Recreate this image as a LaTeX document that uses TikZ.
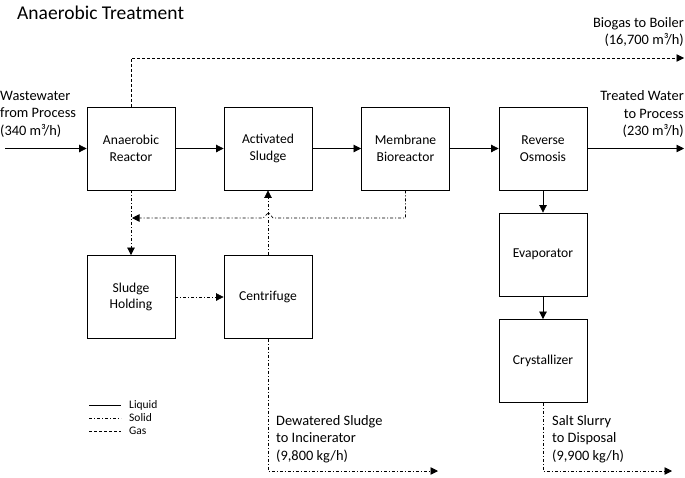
\documentclass[tikz,border=0pt]{standalone}
\usepackage{fontspec}
\setmainfont{Carlito}
\usetikzlibrary{arrows.meta}
\tikzset{
  unitbox/.style={draw,thick,minimum width=88pt,minimum height=83pt,align=center,inner sep=0pt,font=\fontsize{13.6}{16.5}\selectfont},
  flowtip/.style={-{Triangle[length=7.5pt,width=7.5pt]}},
  liquidflow/.style={flowtip,line width=0.7pt},
  solidflow/.style={flowtip,line width=0.7pt,dash pattern=on 3pt off 2pt on 1pt off 2pt},
  gasflow/.style={flowtip,line width=0.7pt,dash pattern=on 3pt off 2pt},
  flowlabel/.style={inner sep=0pt,font=\fontsize{14.4}{17.5}\selectfont},
  keylabel/.style={anchor=west,inner sep=0pt,font=\fontsize{11.5}{13}\selectfont}
}
\begin{document}
\begin{tikzpicture}[x=1pt,y=-1pt]
\useasboundingbox (0,0) rectangle (685,477);

%% title
\node [anchor=west,inner sep=0pt,font=\fontsize{19.5}{22}\selectfont] (title) at (17,13) {Anaerobic Treatment};

%% units
\node [unitbox] (reactor) at (131,148.5) {Anaerobic\\Reactor};
\node [unitbox] (activated) at (268,148.5) {Activated\\Sludge};
\node [unitbox] (membrane) at (405.5,148.5) {Membrane\\Bioreactor};
\node [unitbox] (osmosis) at (543,148.5) {Reverse\\Osmosis};
\node [unitbox] (evaporator) at (543,254.5) {Evaporator};
\node [unitbox] (crystallizer) at (543,361) {Crystallizer};
\node [unitbox] (holding) at (131,297) {Sludge\\Holding};
\node [unitbox] (centrifuge) at (268,297) {Centrifuge};

%% free ends
\coordinate (feed) at (5,148.5);
\coordinate (product) at (684,148.5);
\coordinate (gascorner) at (131,58);
\coordinate (gasout) at (684,58);
\coordinate (returncorner) at (405.5,218);
\coordinate (hopright) at (273,218);
\coordinate (hopleft) at (263,218);
\coordinate (returnend) at (132,218);
\coordinate (cakecorner) at (268,471);
\coordinate (cakeout) at (438,471);
\coordinate (saltcorner) at (543,471);
\coordinate (saltout) at (672,471);

%% liquid
\draw [liquidflow] (feed) -- (reactor);
\draw [liquidflow] (reactor) -- (activated);
\draw [liquidflow] (activated) -- (membrane);
\draw [liquidflow] (membrane) -- (osmosis);
\draw [liquidflow] (osmosis) -- (product);
\draw [liquidflow] (osmosis) -- (evaporator);
\draw [liquidflow] (evaporator) -- (crystallizer);

%% gas
\draw [gasflow] (reactor.north) -- (gascorner) -- (gasout);

%% solid
\draw [solidflow] (reactor.south) -- (holding.north);
\draw [solidflow] (holding) -- (centrifuge);
\draw [solidflow] (centrifuge.north) -- (activated.south);
\draw [solidflow] (membrane.south) -- (returncorner) -- (hopright)
  -- ++(-4,-5) -- ++(-1,0) -- (hopleft) -- (returnend);
\draw [solidflow] (centrifuge.south) -- (cakecorner) -- (cakeout);
\draw [solidflow] (crystallizer.south) -- (saltcorner) -- (saltout);

%% labels
\node [flowlabel,anchor=west,align=left] (feedlabel) at (0,114) {Wastewater\\from Process\\(340 m³/h)};
\node [flowlabel,anchor=east,align=right] (productlabel) at (684,114) {Treated Water\\to Process\\(230 m³/h)};
\node [flowlabel,anchor=east,align=right] (gaslabel) at (684,32) {Biogas to Boiler\\(16,700 m³/h)};
\node [flowlabel,anchor=west,align=left] (cakelabel) at (276,439) {Dewatered Sludge\\to Incinerator\\(9,800 kg/h)};
\node [flowlabel,anchor=west,align=left] (saltlabel) at (552,439) {Salt Slurry\\to Disposal\\(9,900 kg/h)};

%% legend
\coordinate (liquidA) at (89,405);
\coordinate (liquidB) at (121,405);
\coordinate (solidA) at (89,418);
\coordinate (solidB) at (121,418);
\coordinate (gasA) at (89,431);
\coordinate (gasB) at (121,431);
\draw [line width=0.7pt] (liquidA) -- (liquidB);
\draw [line width=0.7pt,dash pattern=on 3pt off 2pt on 1pt off 2pt] (solidA) -- (solidB);
\draw [line width=0.7pt,dash pattern=on 3pt off 2pt] (gasA) -- (gasB);
\node [keylabel] (liquidkey) at (129,405) {Liquid};
\node [keylabel] (solidkey) at (129,418) {Solid};
\node [keylabel] (gaskey) at (129,431) {Gas};

\end{tikzpicture}
\end{document}
